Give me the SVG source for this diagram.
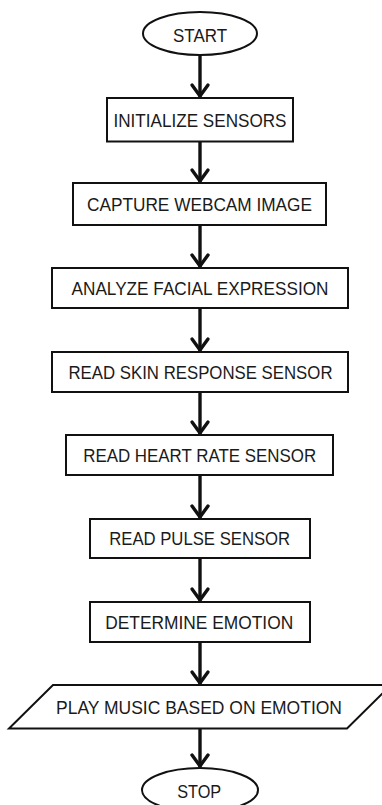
<svg xmlns="http://www.w3.org/2000/svg" width="382" height="805" viewBox="0 0 382 805">
  <style>
    .shape { fill: #ffffff; stroke: #111111; stroke-width: 2; }
    .label { font-family: "Liberation Sans", Arial, sans-serif; font-size: 19px; fill: #1a1a1a; text-anchor: middle; }
    .flow { stroke: #111111; stroke-width: 3.4; fill: none; }
  </style>
  <defs>
    <marker id="chevron" markerUnits="userSpaceOnUse" markerWidth="20" markerHeight="20" refX="0" refY="0" orient="auto" viewBox="-14 -10 16 20" overflow="visible">
      <path d="M-12,-8 L-1,0 L-12,8" fill="none" stroke="#111111" stroke-width="3.4" stroke-linejoin="round" stroke-linecap="round"/>
    </marker>
  </defs>
  <rect width="382" height="805" fill="#ffffff"/>

  <g id="connectors">
    <line class="flow" x1="200" y1="55" x2="200" y2="97" marker-end="url(#chevron)"/>
    <line class="flow" x1="200" y1="142" x2="200" y2="182" marker-end="url(#chevron)"/>
    <line class="flow" x1="200" y1="225" x2="200" y2="267" marker-end="url(#chevron)"/>
    <line class="flow" x1="200" y1="308" x2="200" y2="351" marker-end="url(#chevron)"/>
    <line class="flow" x1="200" y1="392" x2="200" y2="434" marker-end="url(#chevron)"/>
    <line class="flow" x1="200" y1="475" x2="200" y2="518" marker-end="url(#chevron)"/>
    <line class="flow" x1="200" y1="558" x2="200" y2="601" marker-end="url(#chevron)"/>
    <line class="flow" x1="200" y1="642" x2="200" y2="684" marker-end="url(#chevron)"/>
    <line class="flow" x1="200" y1="729" x2="200" y2="767" marker-end="url(#chevron)"/>
  </g>

  <g id="start">
    <ellipse class="shape" cx="200" cy="33.5" rx="57" ry="21.5"/>
    <text class="label" x="200" y="41.8" textLength="54" lengthAdjust="spacingAndGlyphs">START</text>
  </g>

  <g id="init-sensors">
    <rect class="shape" x="107" y="98" width="186" height="43.5"/>
    <text class="label" x="200" y="126.8" textLength="173" lengthAdjust="spacingAndGlyphs">INITIALIZE SENSORS</text>
  </g>

  <g id="capture-image">
    <rect class="shape" x="73" y="183" width="253" height="42"/>
    <text class="label" x="199.5" y="210.8" textLength="225" lengthAdjust="spacingAndGlyphs">CAPTURE WEBCAM IMAGE</text>
  </g>

  <g id="analyze-face">
    <rect class="shape" x="52" y="268" width="296" height="40"/>
    <text class="label" x="200" y="294.8" textLength="257" lengthAdjust="spacingAndGlyphs">ANALYZE FACIAL EXPRESSION</text>
  </g>

  <g id="read-skin">
    <rect class="shape" x="52" y="352" width="296" height="40"/>
    <text class="label" x="200.5" y="378.8" textLength="264" lengthAdjust="spacingAndGlyphs">READ SKIN RESPONSE SENSOR</text>
  </g>

  <g id="read-heart">
    <rect class="shape" x="66" y="435" width="267" height="40"/>
    <text class="label" x="199.7" y="462.1" textLength="233" lengthAdjust="spacingAndGlyphs">READ HEART RATE SENSOR</text>
  </g>

  <g id="read-pulse">
    <rect class="shape" x="90" y="519" width="220" height="39"/>
    <text class="label" x="199.7" y="545.3" textLength="181" lengthAdjust="spacingAndGlyphs">READ PULSE SENSOR</text>
  </g>

  <g id="determine-emotion">
    <rect class="shape" x="90" y="602" width="220" height="40"/>
    <text class="label" x="199.2" y="628.8" textLength="188" lengthAdjust="spacingAndGlyphs">DETERMINE EMOTION</text>
  </g>

  <g id="play-music">
    <polygon class="shape" points="53,685 391,685 347,728.5 9,728.5"/>
    <text class="label" x="199" y="713.5" textLength="286" lengthAdjust="spacingAndGlyphs">PLAY MUSIC BASED ON EMOTION</text>
  </g>

  <g id="stop">
    <ellipse class="shape" cx="200" cy="790" rx="58" ry="22"/>
    <text class="label" x="199.2" y="797.8" textLength="44" lengthAdjust="spacingAndGlyphs">STOP</text>
  </g>
</svg>
